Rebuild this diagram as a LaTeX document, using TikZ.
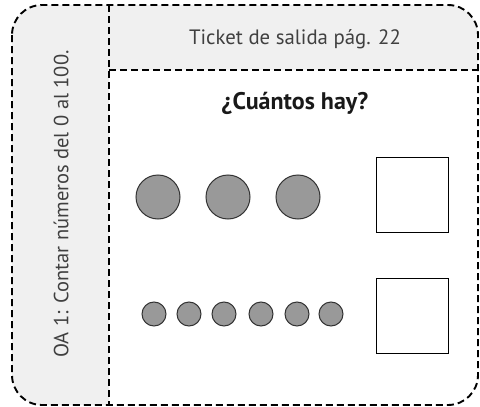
\documentclass[tikz,border=0pt]{standalone}
\usepackage{fontspec}
\setmainfont{PT Sans}
\begin{document}
\begin{tikzpicture}[x=1pt,y=-1pt,
  dashline/.style={line width=1.9pt,dash pattern=on 7pt off 4pt},
  bigdot/.style={circle,draw=black!80,line width=1pt,fill=black!40,minimum size=44pt,inner sep=0pt},
  smalldot/.style={circle,draw=black!80,line width=1pt,fill=black!40,minimum size=24pt,inner sep=0pt},
  answer/.style={draw,line width=1pt,minimum width=72pt,minimum height=75pt,inner sep=0pt},
  panel/.style={fill=black!6}]
\useasboundingbox (0,0) rectangle (480,407);
% gray panels
\fill[panel,rounded corners=30pt] (12,5) rectangle (109,405);
\fill[panel] (60,5) rectangle (109,405);
\fill[panel,rounded corners=30pt] (109,5) rectangle (478,70);
\fill[panel] (109,40) rectangle (478,70);
\fill[panel] (109,5) rectangle (300,70);
% borders
\draw[dashline,rounded corners=30pt] (12,5) rectangle (478,405);
\draw[dashline,line width=2.3pt] (109,5) -- (109,405);
\draw[dashline] (109,70) -- (478,70);
% texts
\node[font=\fontsize{20.8}{24}\selectfont,text=black!75] (title) at (295,39) {Ticket de salida pág. 22};
\node[font=\fontsize{24}{28}\selectfont\bfseries,text=black!90] (q) at (295,103) {¿Cuántos hay?};
\node[rotate=90,font=\fontsize{20.5}{24}\selectfont,text=black!75] (oa) at (61,204) {OA 1: Contar números del 0 al 100.};
% dots
\node[bigdot] (b1) at (158,197) {};
\node[bigdot] (b2) at (228,197) {};
\node[bigdot] (b3) at (298,197) {};
\node[smalldot] (s1) at (154,314) {};
\node[smalldot] (s2) at (189,314) {};
\node[smalldot] (s3) at (224,314) {};
\node[smalldot] (s4) at (261,314) {};
\node[smalldot] (s5) at (297,314) {};
\node[smalldot] (s6) at (331,314) {};
% answer boxes
\node[answer] (a1) at (412,195) {};
\node[answer] (a2) at (412,315.5) {};
\end{tikzpicture}
\end{document}
